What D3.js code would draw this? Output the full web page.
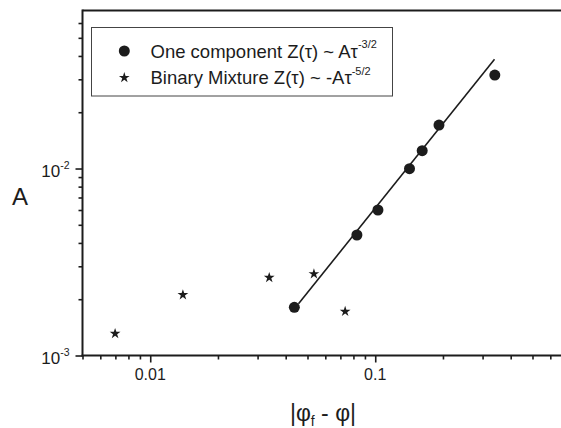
<!DOCTYPE html>
<html>
<head>
<meta charset="utf-8">
<script src="https://cdn.jsdelivr.net/npm/d3@7"></script>
<style>
  html, body { margin: 0; padding: 0; background: #fff; }
  svg { display: block; font-family: "Liberation Sans", Arial, sans-serif; }
</style>
</head>
<body>
<svg id="chart" width="561" height="428"></svg>
<script>
// one component: circles
const oneX = [0.0437, 0.0829, 0.1028, 0.142, 0.1617, 0.192, 0.340];
const oneY = [0.00181, 0.00441, 0.0060, 0.00998, 0.01245, 0.01708, 0.0316];
// binary mixture: stars
const binX = [0.00698, 0.01397, 0.0338, 0.0534, 0.0735];
const binY = [0.00131, 0.00211, 0.00261, 0.00273, 0.00172];
// power-law fit line (slope 3/2)
const fitX = [0.0456, 0.339];
const fitY = [0.00189, 0.0384];

const yMajor = [0.001, 0.01];
const yMajorExp = ['-3', '-2'];
const yMinor = [0.002, 0.003, 0.004, 0.005, 0.006, 0.007, 0.008, 0.009,
                0.02, 0.03, 0.04, 0.05, 0.06];
const xMajor = [0.01, 0.1];
const xMajorLabels = ['0.01', '0.1'];
const xMinor = [0.005, 0.006, 0.007, 0.008, 0.009,
                0.02, 0.03, 0.04, 0.05, 0.06, 0.07, 0.08, 0.09,
                0.2, 0.3, 0.4, 0.5, 0.6, 0.7, 0.8, 0.9];

const legendLabels = [
  { text: 'One component Z(τ) ~ Aτ', exp: '-3/2', kind: 'circle' },
  { text: 'Binary Mixture Z(τ) ~ -Aτ', exp: '-5/2', kind: 'star' }
];

const W = 561, H = 428;
const plotLeft = 82.5, plotTop = 10.5, plotBottom = 355.5;
const decadeX = 225;

const svg = d3.select('#chart');
const x = d3.scaleLog().domain([0.005, 1]).range([plotLeft, plotLeft + decadeX * Math.log10(200)]);
const y = d3.scaleLog().domain([0.001, 0.07]).range([plotBottom, plotTop]);

const ink = '#1c1c1c';

// frame: top line
svg.append('line')
  .attr('x1', plotLeft).attr('x2', W).attr('y1', plotTop).attr('y2', plotTop)
  .attr('stroke', ink).attr('stroke-width', 2);

// x axis
const gx = svg.append('g').attr('transform', `translate(0,${plotBottom})`);
gx.append('g').call(d3.axisBottom(x).tickValues(xMinor).tickSize(4).tickFormat(''));
gx.append('g').call(d3.axisBottom(x).tickValues(xMajor).tickSize(7).tickFormat(''));
gx.selectAll('.domain').remove();
gx.selectAll('.tick line').attr('stroke', ink).attr('stroke-width', 1.6);
gx.append('line').attr('x1', plotLeft - 1).attr('x2', W).attr('stroke', ink).attr('stroke-width', 2);
gx.selectAll('text.xl')
  .data(xMajor)
  .join('text')
  .attr('class', 'xl')
  .attr('x', d => x(d))
  .attr('y', 24.5)
  .attr('text-anchor', 'middle')
  .attr('font-size', 16)
  .attr('fill', ink)
  .text((d, i) => xMajorLabels[i]);

// y axis
const gy = svg.append('g').attr('transform', `translate(${plotLeft},0)`);
gy.append('g').call(d3.axisLeft(y).tickValues(yMinor).tickSize(4).tickFormat(''));
gy.append('g').call(d3.axisLeft(y).tickValues(yMajor).tickSize(7).tickFormat(''));
gy.selectAll('.domain').remove();
gy.selectAll('.tick line').attr('stroke', ink).attr('stroke-width', 1.6);
gy.append('line').attr('y1', plotTop - 1).attr('y2', plotBottom + 1).attr('stroke', ink).attr('stroke-width', 2);
const yl = gy.selectAll('text.yl')
  .data(yMajor)
  .join('text')
  .attr('class', 'yl')
  .attr('x', -13)
  .attr('y', d => y(d) + 8.5)
  .attr('text-anchor', 'end')
  .attr('font-size', 17)
  .attr('fill', ink);
yl.append('tspan').text('10');
yl.append('tspan').attr('font-size', 10.5).attr('dy', -8.5).text((d, i) => yMajorExp[i]);

// axis titles
svg.append('text')
  .attr('x', 20).attr('y', 205)
  .attr('text-anchor', 'middle')
  .attr('font-size', 24)
  .attr('fill', ink)
  .text('A');

const xt = svg.append('text')
  .attr('x', 323).attr('y', 421)
  .attr('text-anchor', 'middle')
  .attr('font-size', 23)
  .attr('fill', ink);
xt.append('tspan').text('|φ');
xt.append('tspan').attr('font-size', 14).attr('dy', 5).text('f');
xt.append('tspan').attr('dy', -5).text(' - φ|');

// fit line
svg.append('path')
  .datum(fitX.map((v, i) => [v, fitY[i]]))
  .attr('fill', 'none')
  .attr('stroke', ink)
  .attr('stroke-width', 1.6)
  .attr('d', d3.line().x(d => x(d[0])).y(d => y(d[1])));

// one component points
svg.append('g')
  .selectAll('circle')
  .data(oneX.map((v, i) => [v, oneY[i]]))
  .join('circle')
  .attr('cx', d => x(d[0]))
  .attr('cy', d => y(d[1]))
  .attr('r', 5.5)
  .attr('fill', ink);

// binary mixture stars
const star = d3.symbol().type(d3.symbolStar).size(36);
svg.append('g')
  .selectAll('path')
  .data(binX.map((v, i) => [v, binY[i]]))
  .join('path')
  .attr('transform', d => `translate(${x(d[0])},${y(d[1])})`)
  .attr('d', star)
  .attr('fill', ink);

// legend
const lg = svg.append('g');
lg.append('rect')
  .attr('x', 91.5).attr('y', 27.5)
  .attr('width', 301).attr('height', 68.5)
  .attr('fill', '#fff')
  .attr('stroke', '#444')
  .attr('stroke-width', 1);

const rows = lg.selectAll('g.row')
  .data(legendLabels)
  .join('g')
  .attr('class', 'row')
  .attr('transform', (d, i) => `translate(0,${51 + i * 26.7})`);

rows.filter(d => d.kind === 'circle')
  .append('circle').attr('cx', 124.3).attr('r', 5.5).attr('fill', ink);
rows.filter(d => d.kind === 'star')
  .append('path').attr('transform', 'translate(124.3,0)').attr('d', star).attr('fill', ink);

const lt = rows.append('text')
  .attr('x', 150.5)
  .attr('y', 6.5)
  .attr('font-size', 18.5)
  .attr('fill', ink);
lt.append('tspan').text(d => d.text);
lt.append('tspan').attr('font-size', 11).attr('dy', -9.5).text(d => d.exp);
</script>
</body>
</html>
